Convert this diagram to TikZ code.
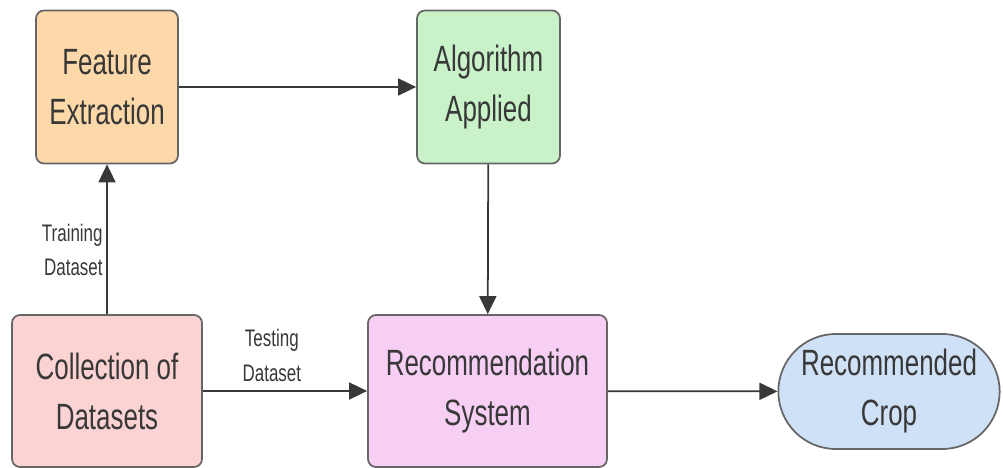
\documentclass[tikz,border=0pt]{standalone}
\usepackage{fontspec}
\setmainfont{Liberation Sans}[FakeStretch=0.71]
\usetikzlibrary{arrows.meta,shapes.misc}
\definecolor{edgegray}{HTML}{666666}
\definecolor{txtgray}{HTML}{383838}
\definecolor{fillfe}{HTML}{FDD9A9}
\definecolor{fillaa}{HTML}{C9F2C9}
\definecolor{fillcd}{HTML}{FBD3D3}
\definecolor{fillrs}{HTML}{F8CFF4}
\definecolor{fillrc}{HTML}{CFE1F7}
\tikzset{
  procbox/.style={draw=edgegray,line width=1pt,rounded corners=0.16cm,
    text=txtgray,align=center,font=\fontsize{20.8}{28.5}\selectfont},
  endbox/.style={draw=edgegray,line width=1pt,rounded rectangle,
    text=txtgray,align=center,font=\fontsize{20.8}{28.5}\selectfont},
  flow/.style={draw=txtgray,line width=1pt,-{Triangle[length=0.36cm,width=0.34cm]}},
  flowlabel/.style={text=txtgray,align=center,font=\fontsize{13.6}{19.5}\selectfont}
}
\begin{document}
\begin{tikzpicture}
\useasboundingbox (0,0) rectangle (20.06,9.36);
\node[procbox,fill=fillfe,minimum width=2.84cm,minimum height=3.06cm] (fe) at (2.14,7.62) {Feature\\Extraction};
\node[procbox,fill=fillaa,minimum width=2.86cm,minimum height=3.06cm] (aa) at (9.77,7.62) {Algorithm\\Applied};
\node[procbox,fill=fillcd,minimum width=3.8cm,minimum height=3.04cm] (cd) at (2.14,1.54) {Collection of\\Datasets};
\node[procbox,fill=fillrs,minimum width=4.78cm,minimum height=3.04cm] (rs) at (9.75,1.54) {Recommendation\\System};
\node[endbox,fill=fillrc,minimum width=4.66cm,minimum height=2.3cm] (rc) at (17.78,1.53) {Recommended\\Crop};
% connectors
\draw[flow] (fe) -- (aa);
\draw[flow] (cd) -- node[flowlabel,left,align=right,pos=.43,inner sep=2pt]{Training\\Dataset} (fe);
\draw[flow] (aa) -- (rs);
\draw[flow] (cd) -- node[flowlabel,above,pos=.42,inner sep=5pt]{Testing\\Dataset} (rs);
\draw[flow] (rs) -- (rc);
\end{tikzpicture}
\end{document}
